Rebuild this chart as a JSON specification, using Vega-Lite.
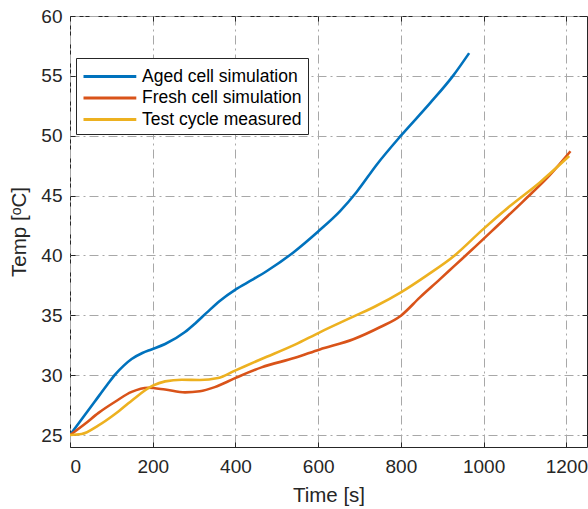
{
  "$schema": "https://vega.github.io/schema/vega-lite/v6.json",
  "autosize": "none",
  "padding": {"left": 70, "top": 16, "right": 1, "bottom": 62},
  "width": 517,
  "height": 431,
  "background": "white",
  "config": {
    "font": "Liberation Sans",
    "view": {"stroke": "#262626", "strokeWidth": 1},
    "axis": {
      "domain": false,
      "labelFont": "Liberation Sans",
      "labelFontSize": 19,
      "labelColor": "#262626",
      "titleFont": "Liberation Sans",
      "titleFontSize": 20.5,
      "titleFontWeight": "normal",
      "titleColor": "#262626",
      "tickColor": "#262626",
      "tickSize": -5,
      "gridColor": "#a8a8a8",
      "gridDash": [9, 4, 2, 4],
      "gridWidth": 1
    },
    "legend": {
      "labelFont": "Liberation Sans",
      "labelFontSize": 17.5,
      "labelColor": "#000000"
    }
  },
  "datasets": {
    "temps": [
      {"t": 0, "T": 25, "s": "Aged cell simulation"},
      {"t": 30, "T": 26.4, "s": "Aged cell simulation"},
      {"t": 60, "T": 27.8, "s": "Aged cell simulation"},
      {"t": 90, "T": 29.2, "s": "Aged cell simulation"},
      {"t": 109, "T": 30.05, "s": "Aged cell simulation"},
      {"t": 130, "T": 30.8, "s": "Aged cell simulation"},
      {"t": 149, "T": 31.35, "s": "Aged cell simulation"},
      {"t": 175, "T": 31.85, "s": "Aged cell simulation"},
      {"t": 197, "T": 32.15, "s": "Aged cell simulation"},
      {"t": 230, "T": 32.6, "s": "Aged cell simulation"},
      {"t": 278, "T": 33.6, "s": "Aged cell simulation"},
      {"t": 302, "T": 34.3, "s": "Aged cell simulation"},
      {"t": 330, "T": 35.2, "s": "Aged cell simulation"},
      {"t": 362, "T": 36.2, "s": "Aged cell simulation"},
      {"t": 400, "T": 37.15, "s": "Aged cell simulation"},
      {"t": 440, "T": 37.95, "s": "Aged cell simulation"},
      {"t": 476, "T": 38.7, "s": "Aged cell simulation"},
      {"t": 540, "T": 40.25, "s": "Aged cell simulation"},
      {"t": 600, "T": 42.0, "s": "Aged cell simulation"},
      {"t": 653, "T": 43.7, "s": "Aged cell simulation"},
      {"t": 693, "T": 45.3, "s": "Aged cell simulation"},
      {"t": 742, "T": 47.6, "s": "Aged cell simulation"},
      {"t": 800, "T": 50.0, "s": "Aged cell simulation"},
      {"t": 870, "T": 52.7, "s": "Aged cell simulation"},
      {"t": 926, "T": 55.0, "s": "Aged cell simulation"},
      {"t": 965, "T": 56.9, "s": "Aged cell simulation"},

      {"t": 0, "T": 25, "s": "Fresh cell simulation"},
      {"t": 35, "T": 25.9, "s": "Fresh cell simulation"},
      {"t": 69, "T": 26.85, "s": "Fresh cell simulation"},
      {"t": 110, "T": 27.8, "s": "Fresh cell simulation"},
      {"t": 149, "T": 28.6, "s": "Fresh cell simulation"},
      {"t": 189, "T": 28.95, "s": "Fresh cell simulation"},
      {"t": 230, "T": 28.8, "s": "Fresh cell simulation"},
      {"t": 278, "T": 28.56, "s": "Fresh cell simulation"},
      {"t": 314, "T": 28.65, "s": "Fresh cell simulation"},
      {"t": 350, "T": 29.0, "s": "Fresh cell simulation"},
      {"t": 399, "T": 29.75, "s": "Fresh cell simulation"},
      {"t": 463, "T": 30.65, "s": "Fresh cell simulation"},
      {"t": 544, "T": 31.45, "s": "Fresh cell simulation"},
      {"t": 604, "T": 32.15, "s": "Fresh cell simulation"},
      {"t": 685, "T": 33.0, "s": "Fresh cell simulation"},
      {"t": 749, "T": 34.0, "s": "Fresh cell simulation"},
      {"t": 800, "T": 34.97, "s": "Fresh cell simulation"},
      {"t": 846, "T": 36.5, "s": "Fresh cell simulation"},
      {"t": 894, "T": 38.0, "s": "Fresh cell simulation"},
      {"t": 930, "T": 39.15, "s": "Fresh cell simulation"},
      {"t": 971, "T": 40.45, "s": "Fresh cell simulation"},
      {"t": 1031, "T": 42.4, "s": "Fresh cell simulation"},
      {"t": 1095, "T": 44.5, "s": "Fresh cell simulation"},
      {"t": 1160, "T": 46.7, "s": "Fresh cell simulation"},
      {"t": 1210, "T": 48.7, "s": "Fresh cell simulation"},

      {"t": 0, "T": 25, "s": "Test cycle measured"},
      {"t": 28, "T": 25.08, "s": "Test cycle measured"},
      {"t": 68, "T": 25.78, "s": "Test cycle measured"},
      {"t": 109, "T": 26.75, "s": "Test cycle measured"},
      {"t": 149, "T": 27.87, "s": "Test cycle measured"},
      {"t": 200, "T": 29.12, "s": "Test cycle measured"},
      {"t": 230, "T": 29.48, "s": "Test cycle measured"},
      {"t": 270, "T": 29.62, "s": "Test cycle measured"},
      {"t": 314, "T": 29.6, "s": "Test cycle measured"},
      {"t": 358, "T": 29.76, "s": "Test cycle measured"},
      {"t": 399, "T": 30.38, "s": "Test cycle measured"},
      {"t": 463, "T": 31.35, "s": "Test cycle measured"},
      {"t": 544, "T": 32.55, "s": "Test cycle measured"},
      {"t": 604, "T": 33.58, "s": "Test cycle measured"},
      {"t": 685, "T": 34.89, "s": "Test cycle measured"},
      {"t": 741, "T": 35.8, "s": "Test cycle measured"},
      {"t": 800, "T": 36.92, "s": "Test cycle measured"},
      {"t": 862, "T": 38.32, "s": "Test cycle measured"},
      {"t": 930, "T": 40.0, "s": "Test cycle measured"},
      {"t": 999, "T": 42.2, "s": "Test cycle measured"},
      {"t": 1063, "T": 44.1, "s": "Test cycle measured"},
      {"t": 1136, "T": 46.1, "s": "Test cycle measured"},
      {"t": 1207, "T": 48.3, "s": "Test cycle measured"}
    ]
  },
  "data": {"name": "temps"},
  "layer": [
    {
      "mark": {"type": "line", "interpolate": "monotone", "strokeWidth": 2.6, "clip": true},
      "encoding": {
        "x": {
          "field": "t", "type": "quantitative",
          "scale": {"domain": [0, 1250], "nice": false, "zero": false},
          "axis": {"title": "Time [s]", "format": "d", "values": [0, 200, 400, 600, 800, 1000, 1200], "labelPadding": 15, "titlePadding": 9, "grid": true}
        },
        "y": {
          "field": "T", "type": "quantitative",
          "scale": {"domain": [24, 60], "nice": false, "zero": false},
          "axis": {"title": "Temp [ᵒC]", "values": [25, 30, 35, 40, 45, 50, 55, 60], "labelPadding": 13, "titlePadding": 11, "grid": true}
        },
        "color": {
          "field": "s", "type": "nominal",
          "scale": {
            "domain": ["Aged cell simulation", "Fresh cell simulation", "Test cycle measured"],
            "range": ["#0072BD", "#D95319", "#EDB120"]
          },
          "legend": {
            "title": null,
            "orient": "none",
            "legendX": 6,
            "legendY": 42,
            "symbolType": "M-1,0H3.8",
            "symbolSize": 484,
            "symbolStrokeWidth": 3,
            "strokeColor": "#262626",
            "fillColor": "white",
            "padding": 6,
            "rowPadding": 0.5,
            "labelOffset": 35
          }
        }
      }
    },
    {
      "mark": {"type": "line", "opacity": 0},
      "encoding": {
        "x": {
          "field": "t", "type": "quantitative",
          "axis": {"orient": "top", "title": null, "labels": false, "grid": false, "values": [0, 200, 400, 600, 800, 1000, 1200]}
        },
        "y": {
          "field": "T", "type": "quantitative",
          "axis": {"orient": "right", "title": null, "labels": false, "grid": false, "values": [25, 30, 35, 40, 45, 50, 55, 60]}
        }
      }
    }
  ],
  "resolve": {"axis": {"x": "independent", "y": "independent"}}
}
